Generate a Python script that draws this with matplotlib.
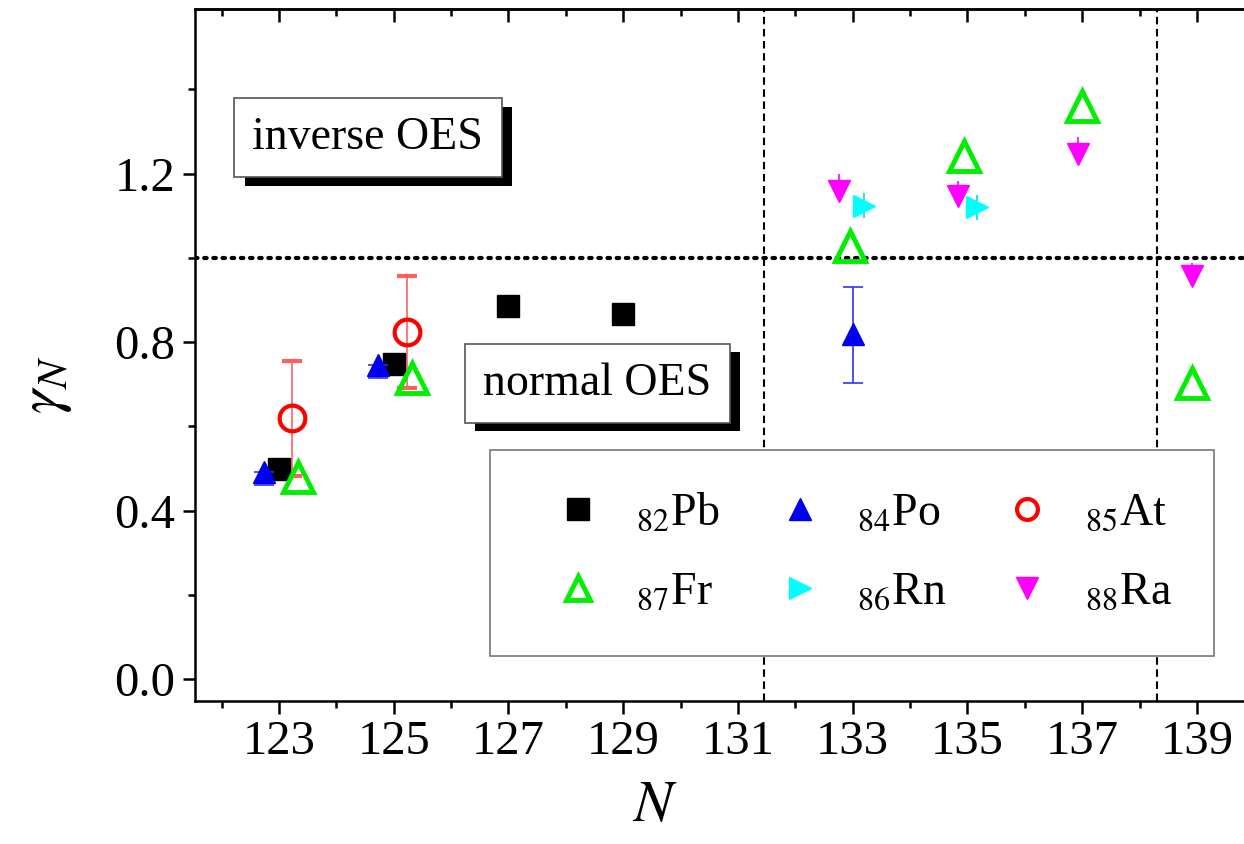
import matplotlib
matplotlib.use('Agg')
import matplotlib.pyplot as plt
import matplotlib.patheffects as pe
from matplotlib.lines import Line2D
from matplotlib.ticker import FixedLocator, MultipleLocator, FormatStrFormatter

plt.rcParams['font.family'] = ['Liberation Serif', 'DejaVu Serif']
plt.rcParams['mathtext.fontset'] = 'stix'

# gamma_N values per element (neutron number N)
pb_n = [123, 125, 127, 129]
pb_g = [0.500, 0.749, 0.887, 0.868]

po_n = [122.73, 124.73, 133.0]
po_g = [0.491, 0.745, 0.820]
po_err_lo = [0.03, 0.03, 0.117]
po_err_hi = [0.0, 0.0, 0.111]

at_n = [123.22, 125.23]
at_g = [0.619, 0.823]
at_err = [0.136, 0.133]

fr_n = [123.33, 125.32, 132.95, 134.94, 137.0, 138.91]
fr_g = [0.479, 0.714, 1.029, 1.243, 1.361, 0.704]

rn_n = [133.2, 135.17]
rn_g = [1.124, 1.120]
rn_err = [0.03, 0.03]

ra_n = [132.76, 134.83, 136.93, 138.91]
ra_g = [1.160, 1.148, 1.247, 0.958]
ra_err_hi = [0.04, 0.035, 0.04, 0.03]

labels = ['$_{82}$Pb', '$_{84}$Po', '$_{85}$At', '$_{87}$Fr', '$_{86}$Rn', '$_{88}$Ra']
x_major = [123, 125, 127, 129, 131, 133, 135, 137, 139]
y_major = [0.0, 0.4, 0.8, 1.2]
shell_lines = [131.45, 138.3]

fig = plt.figure(figsize=(12.44, 8.44), dpi=100)
ax = fig.add_axes([195 / 1244, 1 - 701 / 844, 1049 / 1244, 692 / 844])

# reference lines
ax.axhline(1.0, color='k', lw=3, ls=(0, (0.6, 1.6)), dash_capstyle='round', zorder=1)
for xv in shell_lines:
    ax.axvline(xv, color='k', lw=1.5, ls=(0, (3.6, 2.2)), zorder=1)

ax.errorbar(at_n, at_g, yerr=at_err, fmt='o', ms=18.5, mfc='none', mec='red', mew=3,
            ecolor='#ff6060', elinewidth=1.2, capsize=7, capthick=1.2, zorder=3)
ax.plot(pb_n, pb_g, 's', ms=16, color='k', zorder=4)
ax.errorbar(po_n, po_g, yerr=[po_err_lo, po_err_hi], fmt='^', ms=16, color='#0000ee',
            ecolor='#3030ff', elinewidth=1.2, capsize=7, capthick=1.2, zorder=5)
ax.errorbar(rn_n, rn_g, yerr=rn_err, fmt='>', ms=16, color='#00ffff',
            ecolor='#00e0e0', elinewidth=1.2, capsize=0, zorder=5)
ax.errorbar(ra_n, ra_g, yerr=[[0] * len(ra_g), ra_err_hi], fmt='v', ms=16, color='#ff00ff',
            ecolor='#ff00ff', elinewidth=1.2, capsize=0, zorder=5)
ax.plot(fr_n, fr_g, '^', ms=21, mfc='none', mec='#00ee00', mew=3.5, zorder=6)

ax.set_xlim(121.536, 139.82)
ax.set_ylim(-0.052, 1.591)

ax.xaxis.set_major_locator(FixedLocator(x_major))
ax.xaxis.set_minor_locator(MultipleLocator(1))
ax.yaxis.set_major_locator(FixedLocator(y_major))
ax.yaxis.set_minor_locator(MultipleLocator(0.2))
ax.yaxis.set_major_formatter(FormatStrFormatter('%.1f'))

for side in ['left', 'bottom', 'top']:
    ax.spines[side].set_linewidth(1.8)
ax.spines['right'].set_visible(False)

ax.tick_params(axis='both', which='major', direction='out', length=9, width=1.8,
               labelsize=35, pad=5)
ax.tick_params(axis='both', which='minor', direction='out', length=5, width=1.8)
ax.tick_params(axis='x', top=False)
ax.tick_params(axis='y', right=False)

top = ax.secondary_xaxis('top')
top.xaxis.set_major_locator(FixedLocator(x_major))
top.xaxis.set_minor_locator(MultipleLocator(1))
top.tick_params(which='major', direction='in', length=9, width=1.8, labeltop=False)
top.tick_params(which='minor', direction='in', length=5, width=1.8)
top.spines['top'].set_linewidth(1.8)

ax.set_xlabel('$N$', fontsize=42)
ax.xaxis.set_label_coords(0.4385, -0.115)
ax.set_ylabel(r'$\gamma_N$', fontsize=44)
ax.yaxis.set_label_coords(-0.115, 0.457)

# labelled boxes with drop shadow
for txt, xx, yy in [('inverse OES', 124.55, 1.285), ('normal OES', 128.55, 0.702)]:
    t = ax.text(xx, yy, txt, fontsize=33, ha='center', va='center', zorder=7,
                bbox=dict(boxstyle='square,pad=0.4', fc='white', ec='#555555', lw=1.2))
    t.get_bbox_patch().set_path_effects([
        pe.SimplePatchShadow(offset=(7.5, -6), shadow_rgbFace='k', alpha=1.0),
        pe.Normal()])

# legend, filled row by row
h_pb = Line2D([], [], ls='none', marker='s', ms=16, color='k')
h_po = Line2D([], [], ls='none', marker='^', ms=16, color='#0000ee')
h_at = Line2D([], [], ls='none', marker='o', ms=15, mfc='none', mec='red', mew=3)
h_fr = Line2D([], [], ls='none', marker='^', ms=17, mfc='none', mec='#00ee00', mew=3.5)
h_rn = Line2D([], [], ls='none', marker='>', ms=16, color='#00ffff')
h_ra = Line2D([], [], ls='none', marker='v', ms=16, color='#ff00ff')
handles = [h_pb, h_fr, h_po, h_rn, h_at, h_ra]
order = [0, 3, 1, 4, 2, 5]
leg = ax.legend(handles, [labels[i] for i in order], ncol=3, fontsize=33,
                loc='upper left', bbox_to_anchor=((490 - 195) / 1049, (701 - 450) / 692),
                borderaxespad=0, frameon=True, fancybox=False, edgecolor='#777777',
                framealpha=1, handlelength=2.0, handletextpad=0.26, columnspacing=0.75,
                borderpad=0.92, labelspacing=0.8)
leg.get_frame().set_linewidth(1.2)
leg.set_zorder(10)

fig.savefig('out.png', dpi=100)
